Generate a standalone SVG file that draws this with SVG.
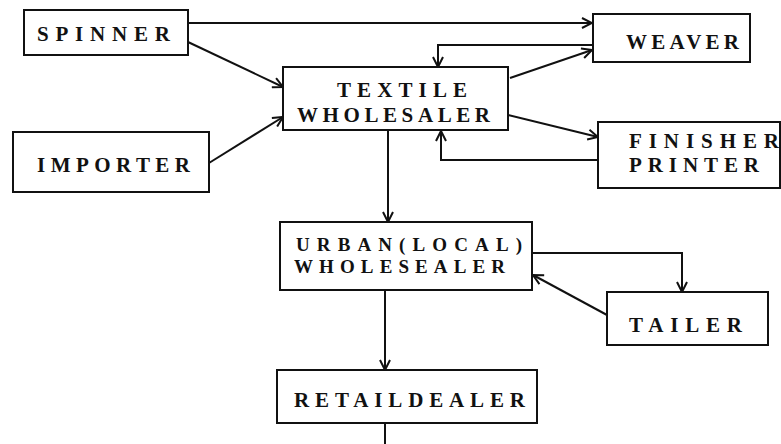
<svg xmlns="http://www.w3.org/2000/svg" width="781" height="444" viewBox="0 0 781 444">
<style>
.box{fill:#fff;stroke:#111;stroke-width:2}
.t{font-family:"Liberation Serif","Times New Roman",serif;font-weight:bold;font-size:21px;fill:#111}
.s{font-size:19px}
.c{fill:none;stroke:#111;stroke-width:2}
</style>
<defs>
<marker id="a" viewBox="0 0 12 12" refX="11" refY="6" markerWidth="12" markerHeight="12" markerUnits="userSpaceOnUse" orient="auto">
<path d="M1,1 L11,6 L1,11" fill="none" stroke="#111" stroke-width="2"/>
</marker>
</defs>
<rect width="781" height="444" fill="#fff"/>
<g id="connectors">
<path class="c" d="M188,23 L592,23" marker-end="url(#a)"/>
<path class="c" d="M592,45 L438,45 L438,67" marker-end="url(#a)"/>
<path class="c" d="M510,78 L592,50" marker-end="url(#a)"/>
<path class="c" d="M508,115 L598,137" marker-end="url(#a)"/>
<path class="c" d="M598,160 L441,160 L441,131" marker-end="url(#a)"/>
<path class="c" d="M188,42 L283,87" marker-end="url(#a)"/>
<path class="c" d="M209,163 L283,117" marker-end="url(#a)"/>
<path class="c" d="M388,130 L388,222" marker-end="url(#a)"/>
<path class="c" d="M532,253 L682,253 L682,292" marker-end="url(#a)"/>
<path class="c" d="M607,315 L533,275" marker-end="url(#a)"/>
<path class="c" d="M385,290 L385,370" marker-end="url(#a)"/>
<path class="c" d="M385,423 L385,444"/>
</g>
<g id="spinner">
<rect class="box" x="24" y="10" width="164" height="45"/>
<text class="t" x="37" y="41" textLength="133" lengthAdjust="spacing">SPINNER</text>
</g>
<g id="importer">
<rect class="box" x="13" y="132" width="196" height="60"/>
<text class="t" x="37" y="172" textLength="153" lengthAdjust="spacing">IMPORTER</text>
</g>
<g id="textile">
<rect class="box" x="283" y="67" width="225" height="63"/>
<text class="t" x="337" y="97" textLength="130" lengthAdjust="spacing">TEXTILE</text>
<text class="t" x="297" y="122" textLength="193" lengthAdjust="spacing">WHOLESALER</text>
</g>
<g id="weaver">
<rect class="box" x="593" y="14" width="157" height="48"/>
<text class="t" x="626" y="49" textLength="113" lengthAdjust="spacing">WEAVER</text>
</g>
<g id="finisher">
<rect class="box" x="598" y="122" width="182" height="66"/>
<text class="t" x="629" y="148" textLength="150" lengthAdjust="spacing">FINISHER</text>
<text class="t" x="629" y="172" textLength="130" lengthAdjust="spacing">PRINTER</text>
</g>
<g id="urban">
<rect class="box" x="280" y="222" width="252" height="68"/>
<text class="t s" x="296" y="251" textLength="226" lengthAdjust="spacing">URBAN(LOCAL)</text>
<text class="t s" x="294" y="273" textLength="211" lengthAdjust="spacing">WHOLESEALER</text>
</g>
<g id="tailer">
<rect class="box" x="607" y="292" width="161" height="53"/>
<text class="t" x="629" y="332" textLength="113" lengthAdjust="spacing">TAILER</text>
</g>
<g id="retail">
<rect class="box" x="277" y="370" width="260" height="53"/>
<text class="t" x="294" y="407" textLength="231" lengthAdjust="spacing">RETAILDEALER</text>
</g>
</svg>
